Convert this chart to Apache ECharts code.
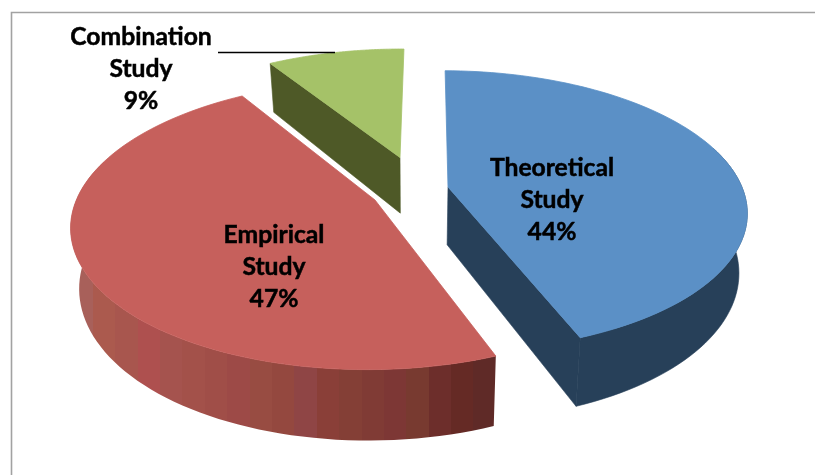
<!DOCTYPE html>
<html>
<head>
<meta charset="utf-8">
<style>html,body{margin:0;padding:0;background:#fff}#c{width:815px;height:475px}</style>
<script src="https://cdn.jsdelivr.net/npm/echarts@6/dist/echarts.min.js"></script>
</head>
<body>
<div id="c"></div>
<script>
var categories = ['Theoretical Study', 'Empirical Study', 'Combination Study'];
var seriesValues = [44, 47, 9];
var topColors = ['#5b90c6', '#c6605c', '#a5c268'];
var wallColors = ['#274059', '#8a4440', '#4e5927'];
var redBands = ['#a8605a','#ab5a4e','#a8564e','#ae504f','#a5534e','#a3514a','#a04e48','#9d4a47','#984c42','#94483f','#8f4545','#8a3f38','#843f36','#803b35','#7d3735','#783a30','#6d2e2b','#652a25','#5f2a27'];

// layout of the exploded 3D pie
var startDeg = 0.5;
var CX = 413, CY = 190, RX = 295, RY = 137, PERSP = 0.17, DEPTH = 58, SHRINK = 0.975;
var apexes = [[448,187],[375,200],[400,157.5]];
var labelPos = [[552,200],[274,267],[141,69]];
var drawOrder = [2,0,1];
var cutWall = ['end', null, 'start'];

function project(U, V) {
  var f = 1 / (1 - PERSP * V);
  return [CX + RX * U * f, CY + RY * V * f, f];
}
function unproject(x, y) {
  var dy = y - CY;
  var V = dy / (RY + PERSP * dy);
  var f = 1 / (1 - PERSP * V);
  return [(x - CX) / (RX * f), V];
}
function lower(p) {
  return [CX + (p[0] - CX) * SHRINK, p[1] + DEPTH * p[2]];
}
var total = seriesValues.reduce(function (a, b) { return a + b; }, 0);
var angles = [], acc = startDeg;
seriesValues.forEach(function (v) { angles.push([acc, acc + v / total * 360]); acc += v / total * 360; });

function sliceElements(i) {
  var o = unproject(apexes[i][0], apexes[i][1]);
  var arc = [], frontArc = [];
  var a0 = angles[i][0], a1 = angles[i][1], n = 90;
  for (var k = 0; k <= n; k++) {
    var t = (a0 + (a1 - a0) * k / n) * Math.PI / 180;
    var p = project(o[0] + Math.sin(t), o[1] - Math.cos(t));
    arc.push(p);
    if (Math.cos(t) < 0.3) frontArc.push(p);
  }
  var apex = project(o[0], o[1]);
  var lowApex = lower(apex);
  var xy = function (p) { return [p[0], p[1]]; };
  var topFace = [xy(apex)].concat(arc.map(xy));
  var kids = [];
  if (cutWall[i]) {
    var e = cutWall[i] === 'end' ? n : 0;
    kids.push({ type: 'polygon', shape: { points: [xy(apex), xy(arc[e]), lower(arc[e]), lowApex] }, style: { fill: wallColors[i], stroke: wallColors[i], lineWidth: 0.6 } });
  }
  var outerFill = wallColors[i], outerStroke = wallColors[i], outerWidth = 0.6;
  if (i === 1) {
    var list = [];
    redBands.forEach(function (c, j) {
      list.push({ offset: j / redBands.length, color: c });
      list.push({ offset: (j + 1) / redBands.length, color: c });
    });
    outerFill = new echarts.graphic.LinearGradient(0, 0, 1, 0, list);
    outerStroke = null; outerWidth = 0;
  }
  if (frontArc.length > 1) {
    var outer = frontArc.map(xy).concat(frontArc.map(lower).reverse());
    kids.push({ type: 'polygon', shape: { points: outer }, style: { fill: outerFill, stroke: outerStroke, lineWidth: outerWidth } });
  }
  kids.push({ type: 'polygon', shape: { points: topFace }, style: { fill: topColors[i], stroke: topColors[i], lineWidth: 0.8 } });
  return kids;
}

var chart = echarts.init(document.getElementById('c'), null, { renderer: 'canvas' });
chart.setOption({
  backgroundColor: '#ffffff',
  animation: false,
  graphic: [
    { type: 'polyline', shape: { points: [[11.5, 475], [11.5, 12.5], [815, 12.5]] }, style: { stroke: '#a2a2a2', lineWidth: 1.6, fill: null }, silent: true }
  ],
  series: [{
    type: 'custom',
    coordinateSystem: 'none',
    data: drawOrder.map(function (i) { return { name: categories[i], value: [seriesValues[i], i] }; }),
    renderItem: function (params, api) {
      var i = api.value(1);
      return { type: 'group', children: sliceElements(i) };
    }
  }, {
    type: 'custom',
    coordinateSystem: 'none',
    data: categories.map(function (c, i) { return { name: c, value: [seriesValues[i], i] }; }),
    renderItem: function (params, api) {
      var i = api.value(1);
      var words = categories[i].split(' ');
      var pct = Math.round(api.value(0) / total * 100) + '%';
      var kids = [{
        type: 'text',
        style: {
          x: labelPos[i][0], y: labelPos[i][1],
          text: words[0] + '\n' + words[1] + '\n' + pct,
          align: 'center', verticalAlign: 'middle',
          font: 'bold 24.7px Lato', lineHeight: 32, fill: '#000',
          stroke: '#000', lineWidth: 0.5
        }
      }];
      if (i === 2) {
        kids.push({ type: 'line', shape: { x1: 218, y1: 52.5, x2: 335, y2: 52.5 }, style: { stroke: '#000', lineWidth: 1.6 } });
      }
      return { type: 'group', children: kids };
    }
  }]
});
</script>
</body>
</html>
